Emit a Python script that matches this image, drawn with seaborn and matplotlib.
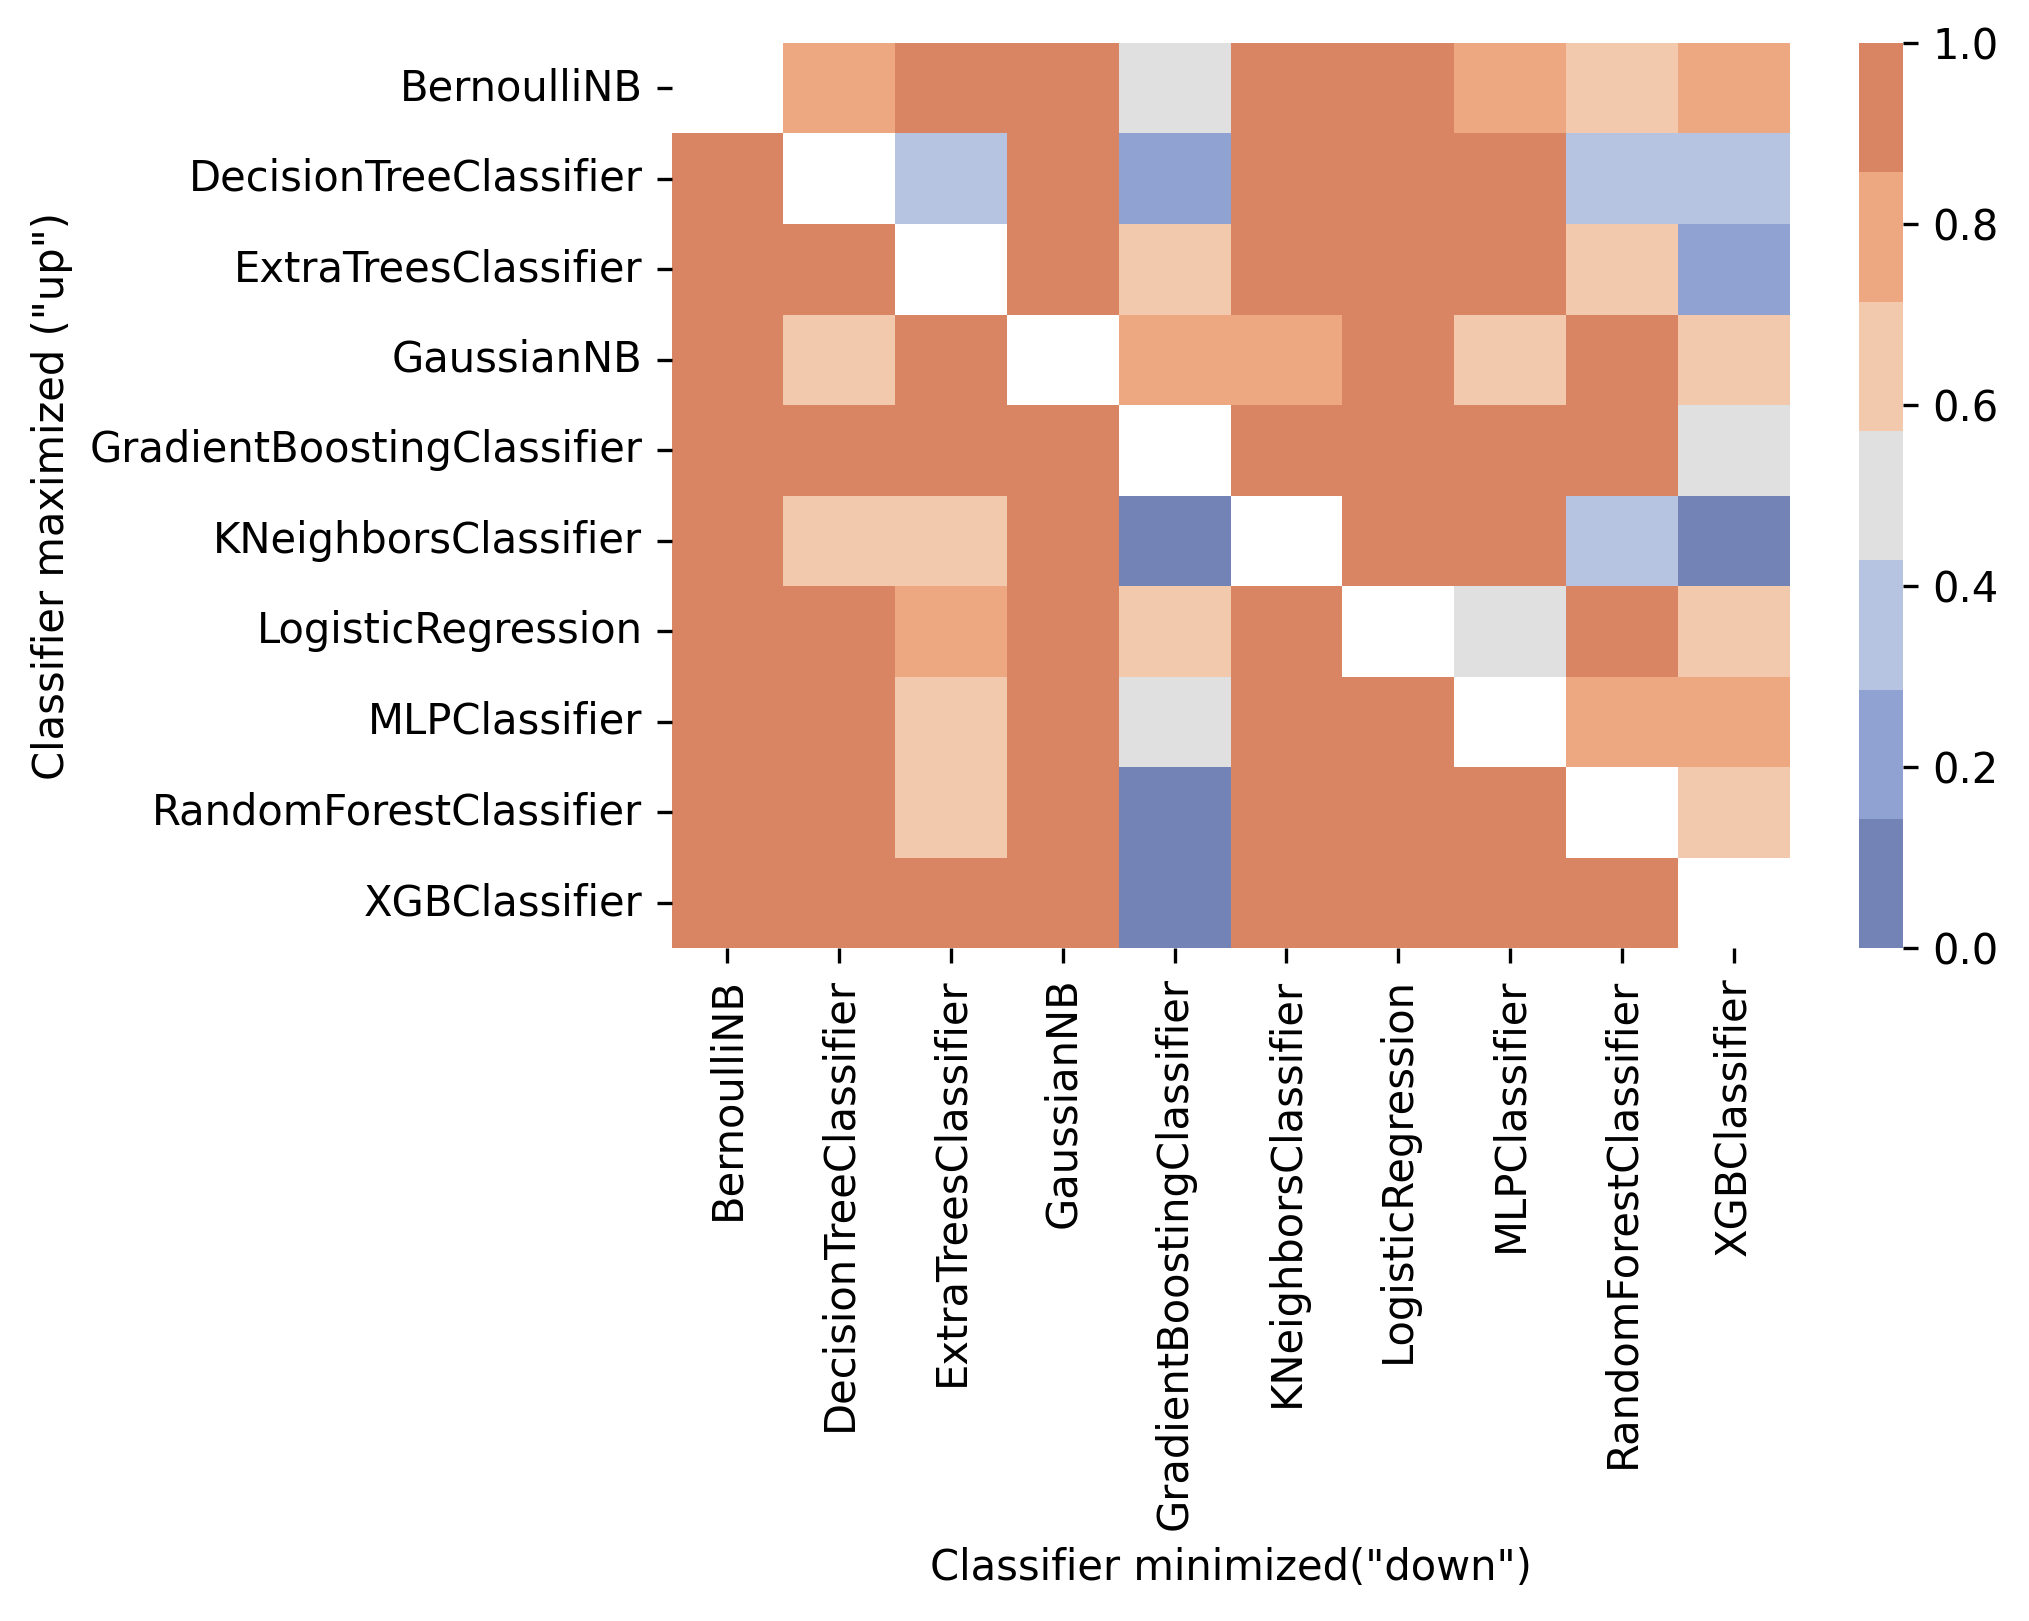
import numpy as np
import pandas as pd
from matplotlib import pyplot as plt
from matplotlib.colors import ListedColormap
import seaborn as sns

classifiers = ['BernoulliNB', 'DecisionTreeClassifier', 'ExtraTreesClassifier', 'GaussianNB',
               'GradientBoostingClassifier', 'KNeighborsClassifier', 'LogisticRegression',
               'MLPClassifier', 'RandomForestClassifier', 'XGBClassifier']

nan = np.nan
# rows: classifier maximized ("up"), columns: classifier minimized ("down")
row_bernoulli = [nan, 0.8, 1.0, 1.0, 0.5, 1.0, 1.0, 0.8, 0.6, 0.8]
row_dtree     = [1.0, nan, 0.4, 1.0, 0.2, 1.0, 1.0, 1.0, 0.4, 0.4]
row_extra     = [1.0, 1.0, nan, 1.0, 0.6, 1.0, 1.0, 1.0, 0.6, 0.2]
row_gauss     = [1.0, 0.6, 1.0, nan, 0.8, 0.8, 1.0, 0.6, 1.0, 0.6]
row_gboost    = [1.0, 1.0, 1.0, 1.0, nan, 1.0, 1.0, 1.0, 1.0, 0.5]
row_knn       = [1.0, 0.6, 0.6, 1.0, 0.0, nan, 1.0, 1.0, 0.4, 0.0]
row_logreg    = [1.0, 1.0, 0.8, 1.0, 0.6, 1.0, nan, 0.5, 1.0, 0.6]
row_mlp       = [1.0, 1.0, 0.6, 1.0, 0.5, 1.0, 1.0, nan, 0.8, 0.8]
row_rforest   = [1.0, 1.0, 0.6, 1.0, 0.0, 1.0, 1.0, 1.0, nan, 0.6]
row_xgb       = [1.0, 1.0, 1.0, 1.0, 0.0, 1.0, 1.0, 1.0, 1.0, nan]

data = pd.DataFrame([row_bernoulli, row_dtree, row_extra, row_gauss, row_gboost,
                     row_knn, row_logreg, row_mlp, row_rforest, row_xgb],
                    index=classifiers, columns=classifiers)

# 7 discrete colours, blue -> grey -> orange
cmap = ListedColormap(['#7383b6', '#90a2d1', '#b6c4e1', '#dfe0df',
                       '#f2c9ac', '#eda882', '#d98462'])

fig = plt.figure(figsize=(2029 / 300, 1621 / 300), dpi=300)
ax = fig.add_axes([0.331, 0.415, 0.551, 0.5585])
cax = fig.add_axes([0.916, 0.415, 0.022, 0.5585])

sns.heatmap(data, ax=ax, cbar_ax=cax, cmap=cmap, vmin=0, vmax=1,
            xticklabels=classifiers, yticklabels=classifiers)
ax.set_xticklabels(classifiers, rotation=90, fontsize=10)
ax.set_yticklabels(classifiers, rotation=0, fontsize=10)
ax.set_xlabel('Classifier minimized("down")', fontsize=10)
ax.set_ylabel('Classifier maximized ("up")', fontsize=10)
cax.set_yticks([0.0, 0.2, 0.4, 0.6, 0.8, 1.0])
cax.tick_params(labelsize=10)

fig.savefig('out.png', dpi=300)
